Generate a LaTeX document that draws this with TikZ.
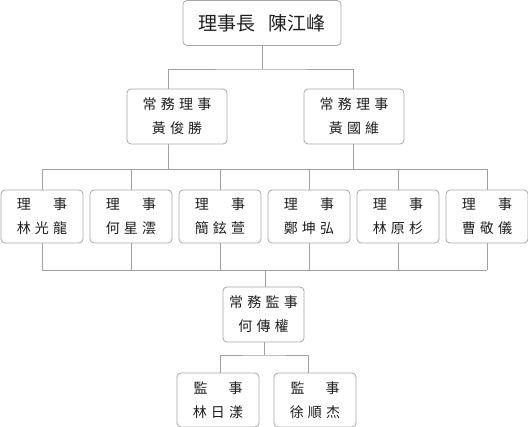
\documentclass[tikz,border=0pt]{standalone}
\usepackage{fontspec}
\newfontfamily\cjk[LetterSpace=30]{Noto Sans CJK TC}
\newfontfamily\cjkhead{Noto Sans CJK TC}
\usepackage{xcolor}
\usetikzlibrary{positioning}
\definecolor{boxline}{HTML}{A8A8A8}
\definecolor{wireline}{HTML}{A0A0A0}
\definecolor{inkcol}{HTML}{1E1E1E}
\tikzset{
	post/.style={draw=boxline, line width=0.8pt, rounded corners=4pt, fill=white,
		inner sep=0pt, align=center, text=inkcol, font=\cjk\fontsize{14}{24}\selectfont},
	wire/.style={draw=wireline, line width=0.8pt},
}

\begin{document}
\begin{tikzpicture}[x=1pt, y=-1pt]
			\path[fill=white, use as bounding box] (0,0) rectangle (528,427);
			
			% board chair and standing directors
			\node[post, minimum width=158pt, minimum height=45pt,
				font=\cjkhead\fontsize{19}{19}\selectfont] (chair) at (262,23) {理事長\hspace{13pt}陳江峰};
			\node[post, minimum width=100pt, minimum height=55pt] (execL) at (177,116.5) {常務理事\\黃俊勝};
			\node[post, minimum width=100pt, minimum height=55pt] (execR) at (354,116.5) {常務理事\\黃國維};
			
			% directors
			\foreach \nm [count=\i from 0] in {林光龍,何星澐,簡鉉萱,鄭坤弘,林原杉,曹敬儀}
				\node[post, minimum width=82pt, minimum height=53pt] (mem\i) at ({42+89*\i},216.5) {理　事\\\nm};
			
			% supervisors
			\node[post, minimum width=81pt, minimum height=55pt] (sup) at (263.5,314.5) {常務監事\\何傳權};
			\node[post, minimum width=82pt, minimum height=54pt] (audL) at (218,400) {監\hspace{21pt}事\\林日漾};
			\node[post, minimum width=82pt, minimum height=54pt] (audR) at (315,400) {監\hspace{21pt}事\\徐順杰};
			
			\coordinate (j1) at (262,69);
			\coordinate (dl) at (168,0);
			\coordinate (dr) at (353,0);
			\coordinate (rowtop) at (0,169);
			\coordinate (rowbot) at (265,270);
			\coordinate (j2) at (264,355);
			\coordinate (al) at (220,0);
			\coordinate (ar) at (308,0);
			
			\draw[wire]
			(chair.south) -- (chair.south |- j1)
			(dl |- execL.north) |- (j1) -| (dr |- execR.north)
			(dl |- execL.south) -- (dl |- rowtop)
			(dr |- execR.south) -- (dr |- rowtop)
			(mem0.north |- rowtop) -- (mem5.north |- rowtop)
			(mem0.south |- rowbot) -- (mem5.south |- rowbot)
			(rowbot) -- (rowbot |- sup.north)
			(sup.south -| j2) -- (j2)
			(al |- audL.north) |- (j2) -| (ar |- audR.north);
			
			\foreach \i in {0,...,5}
				\draw[wire] (mem\i.north) -- (mem\i.north |- rowtop)
				(mem\i.south) -- (mem\i.south |- rowbot);
		\end{tikzpicture}
\end{document}
